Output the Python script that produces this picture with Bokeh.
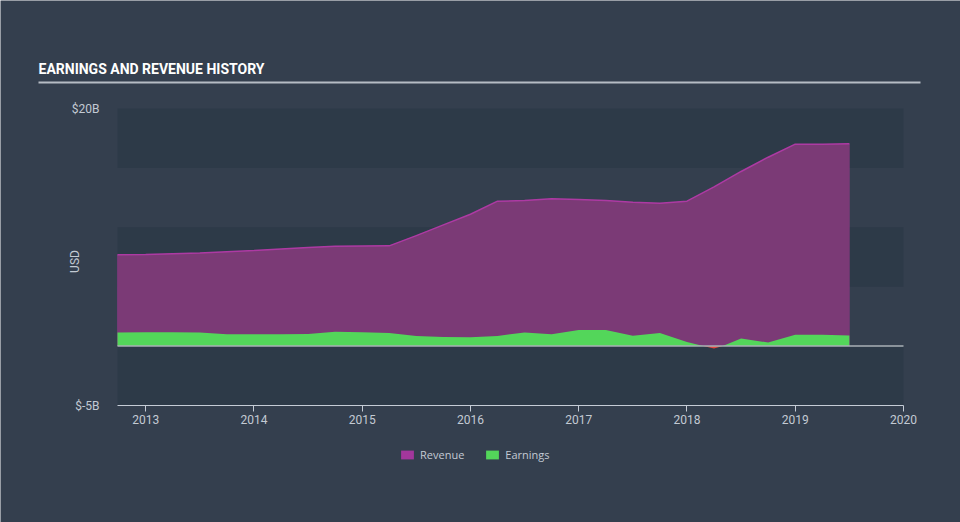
import numpy as np
from bokeh.plotting import figure
from bokeh.models import (FixedTicker, Label, BoxAnnotation, Legend, LegendItem, Range1d)
from bokeh.embed import file_html
from bokeh.resources import INLINE

# ---- data (billions USD) ----
rev_t = [2012.74, 2013.0, 2013.5, 2014.0, 2014.5, 2014.75, 2015.25, 2015.5, 2015.75,
         2016.0, 2016.25, 2016.5, 2016.75, 2017.0, 2017.25, 2017.5, 2017.75, 2018.0,
         2018.25, 2018.5, 2018.75, 2019.0, 2019.25, 2019.5]
revenue = [7.68, 7.72, 7.83, 8.05, 8.3, 8.4, 8.44, 9.3, 10.2,
           11.1, 12.2, 12.25, 12.4, 12.35, 12.25, 12.1, 12.03, 12.2,
           13.4, 14.7, 15.9, 17.0, 17.0, 17.03]

earn_t = [2012.74, 2013.0, 2013.25, 2013.5, 2013.75, 2014.0, 2014.25, 2014.5, 2014.75,
          2015.0, 2015.25, 2015.5, 2015.75, 2016.0, 2016.25, 2016.5, 2016.75, 2017.0,
          2017.25, 2017.5, 2017.75, 2018.0, 2018.15, 2018.25, 2018.33, 2018.5, 2018.75,
          2019.0, 2019.25, 2019.5]
earnings = [1.15, 1.17, 1.17, 1.15, 1.0, 1.0, 1.0, 1.02, 1.2,
            1.17, 1.1, 0.85, 0.76, 0.75, 0.85, 1.15, 1.0, 1.35,
            1.35, 0.87, 1.1, 0.35, 0.0, -0.2, 0.0, 0.65, 0.3,
            0.95, 0.95, 0.9]

x_ticks = [2013, 2014, 2015, 2016, 2017, 2018, 2019, 2020]
y_ticks = [-5, 20]
y_labels = {-5: "$-5B", 20: "$20B"}
band_edges = [(15, 20), (5, 10), (-5, 0)]

# axis extents (data) and where the plotting area sits on the 960x522 canvas (px)
X0, X1 = 2012.74, 2020.0
Y0, Y1 = -5.0, 20.0
W, H = 960, 522
PL, PR, PT, PB = 117, 903, 108, 405

kx = (PR - PL) / (X1 - X0)
ky = (PB - PT) / (Y1 - Y0)
xr = Range1d(X0 - PL / kx, X1 + (W - PR) / kx)
yr = Range1d(Y0 - (H - PB) / ky, Y1 + PT / ky)

BG = "#343f4e"
BAND = "#2d3a48"
TXT = "#c3cad3"
FONT = "Roboto"

p = figure(width=W, height=H, output_backend="svg", toolbar_location=None,
           x_range=xr, y_range=yr, min_border=0)
p.background_fill_color = BG
p.border_fill_color = BG
p.outline_line_color = None
p.grid.grid_line_color = None

for b, t in band_edges:
    p.add_layout(BoxAnnotation(left=X0, right=X1, bottom=b, top=t, fill_color=BAND,
                               fill_alpha=1, line_color=None, level="underlay"))

# brighter magenta layer underneath (gives the legend swatch its colour)
rev_key = p.varea(x=rev_t, y1=0, y2=revenue, fill_color="#a3379c")
p.varea(x=rev_t, y1=0, y2=revenue, fill_color="#7b3a76")
p.line(rev_t, revenue, line_color="#ad3aa3", line_width=1.5)
e = np.array(earnings)
earn_r = p.varea(x=earn_t, y1=0, y2=np.maximum(e, 0), fill_color="#53d65a")
p.varea(x=earn_t, y1=np.minimum(e, 0), y2=0, fill_color="#e5473f")

# zero line
p.segment(x0=[X0], x1=[X1], y0=[0], y1=[0], line_color="#a9b0b6", line_width=1.5)

# axes, pinned at the plotting-area edges
xa = p.xaxis[0]
xa.fixed_location = Y0
xa.bounds = (X0, X1)
xa.ticker = FixedTicker(ticks=x_ticks)
xa.axis_line_color = "#c5ccd6"
xa.major_tick_line_color = "#c5ccd6"
xa.major_tick_out = 6
xa.major_tick_in = 0
xa.minor_tick_line_color = None
xa.major_label_text_color = TXT
xa.major_label_text_font = FONT
xa.major_label_text_font_size = "12px"
xa.major_label_standoff = 3

ya = p.yaxis[0]
ya.fixed_location = X0
ya.ticker = FixedTicker(ticks=y_ticks)
ya.major_label_overrides = y_labels
ya.axis_line_color = None
ya.major_tick_line_color = None
ya.minor_tick_line_color = None
ya.major_label_text_color = TXT
ya.major_label_text_font = FONT
ya.major_label_text_font_size = "12px"
ya.major_label_standoff = 12
ya.axis_label = "USD"
ya.axis_label_text_color = TXT
ya.axis_label_text_font = FONT
ya.axis_label_text_font_style = "normal"
ya.axis_label_text_font_size = "12px"
ya.axis_label_standoff = -13

# title + underline
p.add_layout(Label(x=38, y=H - 68, x_units="screen", y_units="screen",
                   text="EARNINGS AND REVENUE HISTORY", text_color="#ffffff",
                   text_font=FONT, text_font_style="bold", text_font_size="14px",
                   text_baseline="middle"))
p.add_layout(BoxAnnotation(left=38, right=920, bottom=H - 83, top=H - 81,
                           left_units="screen", right_units="screen",
                           bottom_units="screen", top_units="screen",
                           fill_color="#b5bcc4", fill_alpha=1, line_color=None))

legend = Legend(items=[LegendItem(label="Revenue", renderers=[rev_key]),
                       LegendItem(label="Earnings", renderers=[earn_r])],
                location=(399, H - 462), orientation="horizontal",
                glyph_width=16, glyph_height=11, label_height=11,
                label_standoff=5, spacing=20, padding=0, margin=0,
                background_fill_alpha=0, border_line_alpha=0,
                label_text_color=TXT, label_text_font="Open Sans",
                label_text_font_size="11px")
p.add_layout(legend, "center")

open("out.html", "w").write(file_html(p, INLINE))
